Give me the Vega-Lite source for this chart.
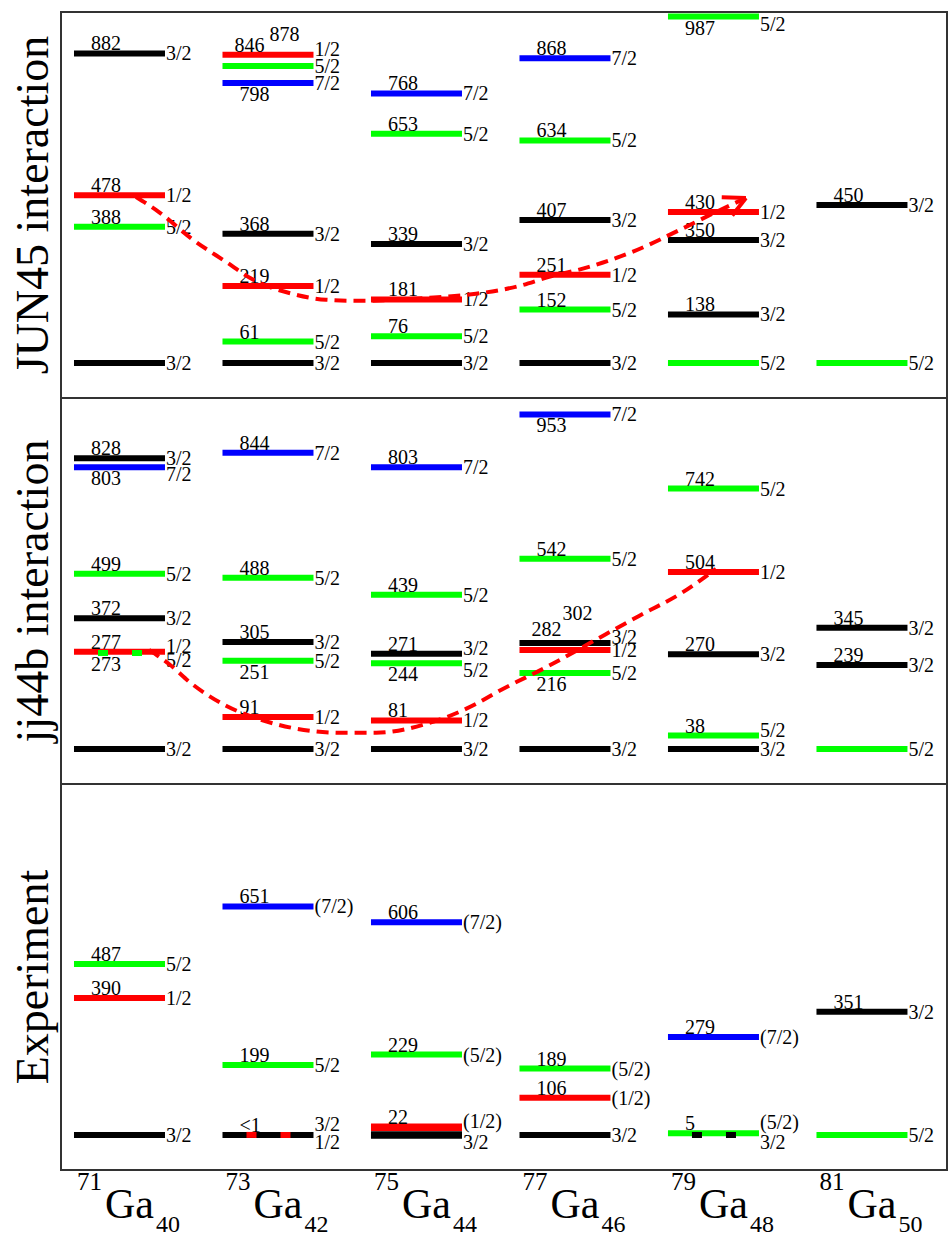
{
"$schema": "https://vega.github.io/schema/vega-lite/v6.json",
"padding": {"left": 10, "top": 11, "right": 2, "bottom": 2},
"background": "white",
"bounds": "flush",
"config": {"font": "Liberation Serif", "view": {"stroke": "#333", "strokeWidth": 2}},
"data": {"values": [
{"k":"lv","p":"JUN45 interaction","x":0,"E":0,"J":"3/2","lab":"","lp":"none","sp":"n"},
{"k":"lv","p":"JUN45 interaction","x":0,"E":388,"J":"5/2","lab":"388","lp":"a","sp":"n"},
{"k":"lv","p":"JUN45 interaction","x":0,"E":478,"J":"1/2","lab":"478","lp":"a","sp":"n"},
{"k":"lv","p":"JUN45 interaction","x":0,"E":882,"J":"3/2","lab":"882","lp":"a","sp":"n"},
{"k":"lv","p":"JUN45 interaction","x":1,"E":0,"J":"3/2","lab":"","lp":"none","sp":"n"},
{"k":"lv","p":"JUN45 interaction","x":1,"E":61,"J":"5/2","lab":"61","lp":"a","sp":"n"},
{"k":"lv","p":"JUN45 interaction","x":1,"E":219,"J":"1/2","lab":"219","lp":"a","sp":"n"},
{"k":"lv","p":"JUN45 interaction","x":1,"E":368,"J":"3/2","lab":"368","lp":"a","sp":"n"},
{"k":"lv","p":"JUN45 interaction","x":1,"E":798,"J":"7/2","lab":"798","lp":"b","sp":"n"},
{"k":"lv","p":"JUN45 interaction","x":1,"E":846,"J":"5/2","lab":"846","lp":"hl","sp":"n"},
{"k":"lv","p":"JUN45 interaction","x":1,"E":878,"J":"1/2","lab":"878","lp":"hr","sp":"u"},
{"k":"lv","p":"JUN45 interaction","x":2,"E":0,"J":"3/2","lab":"","lp":"none","sp":"n"},
{"k":"lv","p":"JUN45 interaction","x":2,"E":76,"J":"5/2","lab":"76","lp":"a","sp":"n"},
{"k":"lv","p":"JUN45 interaction","x":2,"E":181,"J":"1/2","lab":"181","lp":"a","sp":"n"},
{"k":"lv","p":"JUN45 interaction","x":2,"E":339,"J":"3/2","lab":"339","lp":"a","sp":"n"},
{"k":"lv","p":"JUN45 interaction","x":2,"E":653,"J":"5/2","lab":"653","lp":"a","sp":"n"},
{"k":"lv","p":"JUN45 interaction","x":2,"E":768,"J":"7/2","lab":"768","lp":"a","sp":"n"},
{"k":"lv","p":"JUN45 interaction","x":3,"E":0,"J":"3/2","lab":"","lp":"none","sp":"n"},
{"k":"lv","p":"JUN45 interaction","x":3,"E":152,"J":"5/2","lab":"152","lp":"a","sp":"n"},
{"k":"lv","p":"JUN45 interaction","x":3,"E":251,"J":"1/2","lab":"251","lp":"a","sp":"n"},
{"k":"lv","p":"JUN45 interaction","x":3,"E":407,"J":"3/2","lab":"407","lp":"a","sp":"n"},
{"k":"lv","p":"JUN45 interaction","x":3,"E":634,"J":"5/2","lab":"634","lp":"a","sp":"n"},
{"k":"lv","p":"JUN45 interaction","x":3,"E":868,"J":"7/2","lab":"868","lp":"a","sp":"n"},
{"k":"lv","p":"JUN45 interaction","x":4,"E":0,"J":"5/2","lab":"","lp":"none","sp":"n"},
{"k":"lv","p":"JUN45 interaction","x":4,"E":138,"J":"3/2","lab":"138","lp":"a","sp":"n"},
{"k":"lv","p":"JUN45 interaction","x":4,"E":350,"J":"3/2","lab":"350","lp":"a","sp":"n"},
{"k":"lv","p":"JUN45 interaction","x":4,"E":430,"J":"1/2","lab":"430","lp":"a","sp":"n"},
{"k":"lv","p":"JUN45 interaction","x":4,"E":987,"J":"5/2","lab":"987","lp":"b","sp":"d"},
{"k":"lv","p":"JUN45 interaction","x":5,"E":0,"J":"5/2","lab":"","lp":"none","sp":"n"},
{"k":"lv","p":"JUN45 interaction","x":5,"E":450,"J":"3/2","lab":"450","lp":"a","sp":"n"},
{"k":"lv","p":"jj44b interaction","x":0,"E":0,"J":"3/2","lab":"","lp":"none","sp":"n"},
{"k":"lv","p":"jj44b interaction","x":0,"E":273,"J":"5/2","lab":"273","lp":"b","sp":"d","ov":true},
{"k":"lv","p":"jj44b interaction","x":0,"E":277,"J":"1/2","lab":"277","lp":"a","sp":"u"},
{"k":"lv","p":"jj44b interaction","x":0,"E":372,"J":"3/2","lab":"372","lp":"a","sp":"n"},
{"k":"lv","p":"jj44b interaction","x":0,"E":499,"J":"5/2","lab":"499","lp":"a","sp":"n"},
{"k":"lv","p":"jj44b interaction","x":0,"E":803,"J":"7/2","lab":"803","lp":"b","sp":"d"},
{"k":"lv","p":"jj44b interaction","x":0,"E":828,"J":"3/2","lab":"828","lp":"a","sp":"n"},
{"k":"lv","p":"jj44b interaction","x":1,"E":0,"J":"3/2","lab":"","lp":"none","sp":"n"},
{"k":"lv","p":"jj44b interaction","x":1,"E":91,"J":"1/2","lab":"91","lp":"a","sp":"n"},
{"k":"lv","p":"jj44b interaction","x":1,"E":251,"J":"5/2","lab":"251","lp":"b","sp":"n"},
{"k":"lv","p":"jj44b interaction","x":1,"E":305,"J":"3/2","lab":"305","lp":"a","sp":"n"},
{"k":"lv","p":"jj44b interaction","x":1,"E":488,"J":"5/2","lab":"488","lp":"a","sp":"n"},
{"k":"lv","p":"jj44b interaction","x":1,"E":844,"J":"7/2","lab":"844","lp":"a","sp":"n"},
{"k":"lv","p":"jj44b interaction","x":2,"E":0,"J":"3/2","lab":"","lp":"none","sp":"n"},
{"k":"lv","p":"jj44b interaction","x":2,"E":81,"J":"1/2","lab":"81","lp":"a","sp":"n"},
{"k":"lv","p":"jj44b interaction","x":2,"E":244,"J":"5/2","lab":"244","lp":"b","sp":"d"},
{"k":"lv","p":"jj44b interaction","x":2,"E":271,"J":"3/2","lab":"271","lp":"a","sp":"u"},
{"k":"lv","p":"jj44b interaction","x":2,"E":439,"J":"5/2","lab":"439","lp":"a","sp":"n"},
{"k":"lv","p":"jj44b interaction","x":2,"E":803,"J":"7/2","lab":"803","lp":"a","sp":"n"},
{"k":"lv","p":"jj44b interaction","x":3,"E":0,"J":"3/2","lab":"","lp":"none","sp":"n"},
{"k":"lv","p":"jj44b interaction","x":3,"E":216,"J":"5/2","lab":"216","lp":"b","sp":"n"},
{"k":"lv","p":"jj44b interaction","x":3,"E":282,"J":"1/2","lab":"282","lp":"hl","sp":"n"},
{"k":"lv","p":"jj44b interaction","x":3,"E":302,"J":"3/2","lab":"302","lp":"hr2","sp":"u"},
{"k":"lv","p":"jj44b interaction","x":3,"E":542,"J":"5/2","lab":"542","lp":"a","sp":"n"},
{"k":"lv","p":"jj44b interaction","x":3,"E":953,"J":"7/2","lab":"953","lp":"b","sp":"n"},
{"k":"lv","p":"jj44b interaction","x":4,"E":0,"J":"3/2","lab":"","lp":"none","sp":"n"},
{"k":"lv","p":"jj44b interaction","x":4,"E":38,"J":"5/2","lab":"38","lp":"a","sp":"u"},
{"k":"lv","p":"jj44b interaction","x":4,"E":270,"J":"3/2","lab":"270","lp":"a","sp":"n"},
{"k":"lv","p":"jj44b interaction","x":4,"E":504,"J":"1/2","lab":"504","lp":"a","sp":"n"},
{"k":"lv","p":"jj44b interaction","x":4,"E":742,"J":"5/2","lab":"742","lp":"a","sp":"n"},
{"k":"lv","p":"jj44b interaction","x":5,"E":0,"J":"5/2","lab":"","lp":"none","sp":"n"},
{"k":"lv","p":"jj44b interaction","x":5,"E":239,"J":"3/2","lab":"239","lp":"a","sp":"n"},
{"k":"lv","p":"jj44b interaction","x":5,"E":345,"J":"3/2","lab":"345","lp":"a","sp":"n"},
{"k":"lv","p":"Experiment","x":0,"E":0,"J":"3/2","lab":"","lp":"none","sp":"n"},
{"k":"lv","p":"Experiment","x":0,"E":390,"J":"1/2","lab":"390","lp":"a","sp":"n"},
{"k":"lv","p":"Experiment","x":0,"E":487,"J":"5/2","lab":"487","lp":"a","sp":"n"},
{"k":"lv","p":"Experiment","x":1,"E":0,"J":"3/2","lab":"","lp":"none","sp":"uu"},
{"k":"lv","p":"Experiment","x":1,"E":0,"J":"1/2","lab":"<1","lp":"a","sp":"d","ov":true},
{"k":"lv","p":"Experiment","x":1,"E":199,"J":"5/2","lab":"199","lp":"a","sp":"n"},
{"k":"lv","p":"Experiment","x":1,"E":651,"J":"(7/2)","lab":"651","lp":"a","sp":"n"},
{"k":"lv","p":"Experiment","x":2,"E":0,"J":"3/2","lab":"","lp":"none","sp":"d"},
{"k":"lv","p":"Experiment","x":2,"E":22,"J":"(1/2)","lab":"22","lp":"a","sp":"u"},
{"k":"lv","p":"Experiment","x":2,"E":229,"J":"(5/2)","lab":"229","lp":"a","sp":"n"},
{"k":"lv","p":"Experiment","x":2,"E":606,"J":"(7/2)","lab":"606","lp":"a","sp":"n"},
{"k":"lv","p":"Experiment","x":3,"E":0,"J":"3/2","lab":"","lp":"none","sp":"n"},
{"k":"lv","p":"Experiment","x":3,"E":106,"J":"(1/2)","lab":"106","lp":"a","sp":"n"},
{"k":"lv","p":"Experiment","x":3,"E":189,"J":"(5/2)","lab":"189","lp":"a","sp":"n"},
{"k":"lv","p":"Experiment","x":4,"E":0,"J":"3/2","lab":"","lp":"none","sp":"d","ov":true},
{"k":"lv","p":"Experiment","x":4,"E":5,"J":"(5/2)","lab":"5","lp":"a","sp":"uu"},
{"k":"lv","p":"Experiment","x":4,"E":279,"J":"(7/2)","lab":"279","lp":"a","sp":"n"},
{"k":"lv","p":"Experiment","x":5,"E":0,"J":"5/2","lab":"","lp":"none","sp":"n"},
{"k":"lv","p":"Experiment","x":5,"E":351,"J":"3/2","lab":"351","lp":"a","sp":"n"},
{"k":"cv","p":"JUN45 interaction","x":0.418,"E":473},
{"k":"cv","p":"JUN45 interaction","x":0.572,"E":430},
{"k":"cv","p":"JUN45 interaction","x":0.795,"E":353},
{"k":"cv","p":"JUN45 interaction","x":1.024,"E":288},
{"k":"cv","p":"JUN45 interaction","x":1.199,"E":239},
{"k":"cv","p":"JUN45 interaction","x":1.468,"E":197},
{"k":"cv","p":"JUN45 interaction","x":1.697,"E":180},
{"k":"cv","p":"JUN45 interaction","x":1.919,"E":177},
{"k":"cv","p":"JUN45 interaction","x":2.370,"E":185},
{"k":"cv","p":"JUN45 interaction","x":2.707,"E":197},
{"k":"cv","p":"JUN45 interaction","x":2.997,"E":219},
{"k":"cv","p":"JUN45 interaction","x":3.199,"E":245},
{"k":"cv","p":"JUN45 interaction","x":3.421,"E":268},
{"k":"cv","p":"JUN45 interaction","x":3.758,"E":316},
{"k":"cv","p":"JUN45 interaction","x":4.094,"E":382},
{"k":"cv","p":"JUN45 interaction","x":4.323,"E":430},
{"k":"cv","p":"JUN45 interaction","x":4.525,"E":470},
{"k":"ar","p":"JUN45 interaction","seg":"a","x":4.525,"E":470},
{"k":"ar","p":"JUN45 interaction","seg":"a","x":4.362,"E":472},
{"k":"ar","p":"JUN45 interaction","seg":"b","x":4.525,"E":470},
{"k":"ar","p":"JUN45 interaction","seg":"b","x":4.433,"E":420},
{"k":"cv","p":"jj44b interaction","x":0.505,"E":282},
{"k":"cv","p":"jj44b interaction","x":0.640,"E":242},
{"k":"cv","p":"jj44b interaction","x":0.795,"E":185},
{"k":"cv","p":"jj44b interaction","x":1.024,"E":123},
{"k":"cv","p":"jj44b interaction","x":1.246,"E":85},
{"k":"cv","p":"jj44b interaction","x":1.468,"E":60},
{"k":"cv","p":"jj44b interaction","x":1.805,"E":46},
{"k":"cv","p":"jj44b interaction","x":2.034,"E":46},
{"k":"cv","p":"jj44b interaction","x":2.370,"E":71},
{"k":"cv","p":"jj44b interaction","x":2.707,"E":128},
{"k":"cv","p":"jj44b interaction","x":2.862,"E":165},
{"k":"cv","p":"jj44b interaction","x":3.199,"E":237},
{"k":"cv","p":"jj44b interaction","x":3.535,"E":316},
{"k":"cv","p":"jj44b interaction","x":3.805,"E":379},
{"k":"cv","p":"jj44b interaction","x":4.094,"E":445},
{"k":"cv","p":"jj44b interaction","x":4.323,"E":513},
{"k":"nu","p":"Experiment","x":0,"E":0,"A":"71","N":"40"},
{"k":"nu","p":"Experiment","x":1,"E":0,"A":"73","N":"42"},
{"k":"nu","p":"Experiment","x":2,"E":0,"A":"75","N":"44"},
{"k":"nu","p":"Experiment","x":3,"E":0,"A":"77","N":"46"},
{"k":"nu","p":"Experiment","x":4,"E":0,"A":"79","N":"48"},
{"k":"nu","p":"Experiment","x":5,"E":0,"A":"81","N":"50"}
]},
"facet": {"row": {"field": "p", "type": "nominal", "sort": ["JUN45 interaction", "jj44b interaction", "Experiment"],
  "header": {"title": null, "labelFont": "Liberation Serif", "labelFontSize": 46, "labelAngle": 270, "labelOrient": "left", "labelPadding": -43, "labelColor": "black", "labelLimit": 0}}},
"spacing": {"row": 0},
"spec": {
  "width": 886, "height": 386,
  "encoding": {
    "x": {"field": "x", "type": "quantitative", "scale": {"domain": [-0.0875, 5.879], "nice": false, "zero": false}, "axis": null},
    "y": {"field": "E", "type": "quantitative", "scale": {"domain": [-100, 1000], "nice": false, "zero": false}, "axis": null}
  },
  "layer": [
    {"transform": [{"filter": "datum.k=='lv' && !datum.ov"}],
     "mark": {"type": "rule", "strokeWidth": 6, "x2Offset": 91},
     "encoding": {"x2": {"field": "x"}, "color": {"field": "J", "type": "nominal", "legend": null,
       "scale": {"domain": ["1/2","3/2","5/2","7/2","(1/2)","(5/2)","(7/2)"], "range": ["#ff0000","#000000","#00ff00","#0000ff","#ff0000","#00ff00","#0000ff"]}}}},
    {"transform": [{"filter": "datum.k=='lv' && datum.ov"}],
     "mark": {"type": "rule", "strokeWidth": 6, "x2Offset": 91, "strokeDash": [10, 24], "strokeDashOffset": 10},
     "encoding": {"x2": {"field": "x"}, "color": {"field": "J", "type": "nominal", "legend": null}}},
    {"transform": [{"filter": "datum.k=='lv' && datum.p=='Experiment' && datum.x==2 && datum.E<50"}],
     "mark": {"type": "rule", "strokeWidth": 7.5, "x2Offset": 91},
     "encoding": {"x2": {"field": "x"}, "color": {"field": "J", "type": "nominal", "legend": null}}},
    {"transform": [{"filter": "datum.k=='lv' && datum.lp=='a'"}],
     "mark": {"type": "text", "align": "left", "baseline": "alphabetic", "dx": 17, "dy": -3, "fontSize": 20, "color": "black"},
     "encoding": {"text": {"field": "lab"}}},
    {"transform": [{"filter": "datum.k=='lv' && datum.lp=='b'"}],
     "mark": {"type": "text", "align": "left", "baseline": "alphabetic", "dx": 17, "dy": 18, "fontSize": 20, "color": "black"},
     "encoding": {"text": {"field": "lab"}}},
    {"transform": [{"filter": "datum.k=='lv' && datum.lp=='hl'"}],
     "mark": {"type": "text", "align": "left", "baseline": "alphabetic", "dx": 12, "dy": -14, "fontSize": 20, "color": "black"},
     "encoding": {"text": {"field": "lab"}}},
    {"transform": [{"filter": "datum.k=='lv' && datum.lp=='hr'"}],
     "mark": {"type": "text", "align": "left", "baseline": "alphabetic", "dx": 47, "dy": -14, "fontSize": 20, "color": "black"},
     "encoding": {"text": {"field": "lab"}}},
    {"transform": [{"filter": "datum.k=='lv' && datum.lp=='hr2'"}],
     "mark": {"type": "text", "align": "left", "baseline": "alphabetic", "dx": 43, "dy": -23, "fontSize": 20, "color": "black"},
     "encoding": {"text": {"field": "lab"}}},
    {"transform": [{"filter": "datum.k=='lv' && datum.sp=='n'"}],
     "mark": {"type": "text", "align": "left", "baseline": "alphabetic", "dx": 92, "dy": 7, "fontSize": 20, "color": "black"},
     "encoding": {"text": {"field": "J"}}},
    {"transform": [{"filter": "datum.k=='lv' && datum.sp=='u'"}],
     "mark": {"type": "text", "align": "left", "baseline": "alphabetic", "dx": 92, "dy": 1, "fontSize": 20, "color": "black"},
     "encoding": {"text": {"field": "J"}}},
    {"transform": [{"filter": "datum.k=='lv' && datum.sp=='uu'"}],
     "mark": {"type": "text", "align": "left", "baseline": "alphabetic", "dx": 92, "dy": -4, "fontSize": 20, "color": "black"},
     "encoding": {"text": {"field": "J"}}},
    {"transform": [{"filter": "datum.k=='lv' && datum.sp=='d'"}],
     "mark": {"type": "text", "align": "left", "baseline": "alphabetic", "dx": 92, "dy": 14, "fontSize": 20, "color": "black"},
     "encoding": {"text": {"field": "J"}}},
    {"transform": [{"filter": "datum.k=='cv'"}],
     "mark": {"type": "line", "color": "#ff0000", "strokeWidth": 4, "strokeDash": [12, 7], "interpolate": "monotone"}},
    {"transform": [{"filter": "datum.k=='ar'"}],
     "mark": {"type": "line", "color": "#ff0000", "strokeWidth": 4},
     "encoding": {"detail": {"field": "seg"}}},
    {"transform": [{"filter": "datum.k=='nu'"}],
     "mark": {"type": "text", "align": "left", "baseline": "alphabetic", "dx": 3, "dy": 55, "fontSize": 25, "color": "black"},
     "encoding": {"text": {"field": "A"}}},
    {"transform": [{"filter": "datum.k=='nu'"}],
     "mark": {"type": "text", "align": "left", "baseline": "alphabetic", "dx": 31, "dy": 83, "fontSize": 42, "color": "black", "text": "Ga"}},
    {"transform": [{"filter": "datum.k=='nu'"}],
     "mark": {"type": "text", "align": "left", "baseline": "alphabetic", "dx": 82, "dy": 97, "fontSize": 24, "color": "black"},
     "encoding": {"text": {"field": "N"}}}
  ]
}
}
